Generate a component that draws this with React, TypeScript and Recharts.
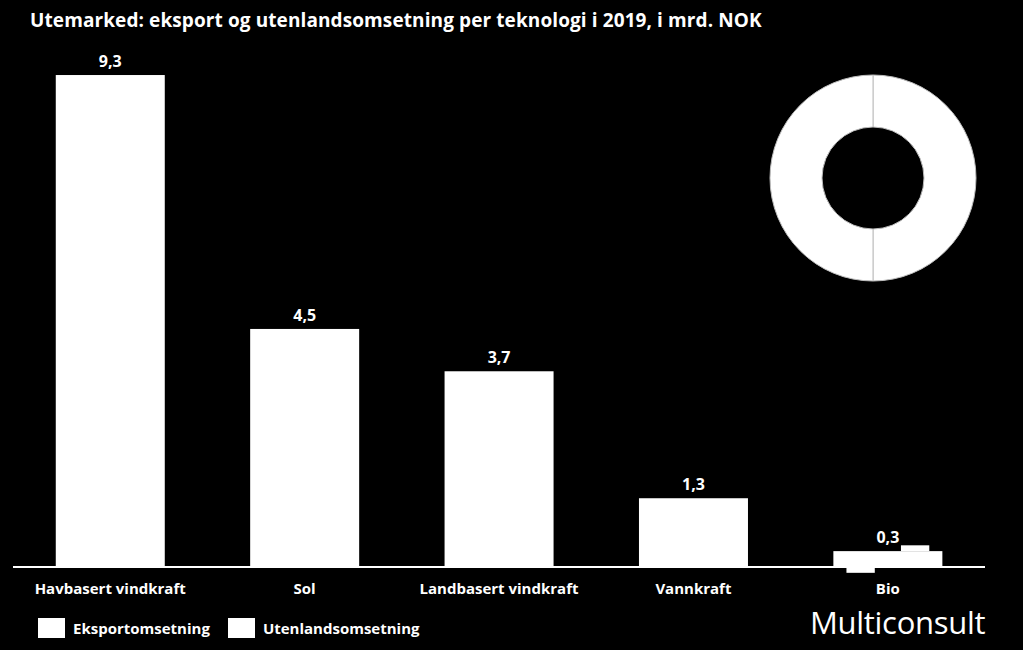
import React from "react";
import { Bar, BarChart, LabelList, Pie, PieChart, XAxis, YAxis, Cell } from "recharts";

const categories = ["Havbasert vindkraft", "Sol", "Landbasert vindkraft", "Vannkraft", "Bio"];
const totals = [9.3, 4.5, 3.7, 1.3, 0.3];
// small offset pieces drawn around the Bio bar in the original
const overlapAbove = [0, 0, 0, 0, 0.11];
const overlapBelow = [0, 0, 0, 0, 0.11];

const seriesNames = ["Eksportomsetning", "Utenlandsomsetning"];
const donutValues = [50, 50];

const FONT = "'Open Sans', Lato, sans-serif";
const WHITE = "#ffffff";

const barData = categories.map((name, i) => ({
  name,
  total: totals[i],
  above: overlapAbove[i],
  below: overlapBelow[i],
}));

const donutData = seriesNames.map((name, i) => ({ name, value: donutValues[i] }));

const fmt = (v: number) => v.toLocaleString("nb-NO", { minimumFractionDigits: 1, maximumFractionDigits: 1 });

// Bar shape: the main rectangle, plus the little shifted pieces seen on the Bio bar.
const renderBar = (props: any) => {
  const { x, y, width, height, payload } = props;
  const perUnit = payload.total ? height / payload.total : 0;
  const pieceW = width * 0.26;
  return (
    <g>
      <rect x={x} y={y} width={width} height={height} fill={WHITE} />
      {payload.above > 0 && (
        <rect
          x={x + width * 0.62}
          y={y - payload.above * perUnit}
          width={pieceW}
          height={payload.above * perUnit}
          fill={WHITE}
        />
      )}
      {payload.below > 0 && (
        <rect x={x + width * 0.12} y={y + height} width={pieceW} height={payload.below * perUnit} fill={WHITE} />
      )}
    </g>
  );
};

export default function App() {
  return (
    <div
      style={{
        position: "fixed",
        left: 0,
        top: 0,
        width: 1023,
        height: 650,
        background: "#000",
        fontFamily: FONT,
        overflow: "hidden",
      }}
    >
      <div
        style={{
          position: "absolute",
          left: 30,
          top: 7,
          color: WHITE,
          fontSize: 19,
          fontWeight: 700,
          letterSpacing: 0.1,
          whiteSpace: "nowrap",
        }}
      >
        Utemarked: eksport og utenlandsomsetning per teknologi i 2019, i mrd. NOK
      </div>

      <div style={{ position: "absolute", left: 0, top: 0 }}>
        <BarChart
          width={1023}
          height={650}
          data={barData}
          margin={{ top: 38, right: 38, bottom: 53, left: 13 }}
          barCategoryGap="22%"
        >
          <XAxis
            dataKey="name"
            height={30}
            axisLine={{ stroke: WHITE, strokeWidth: 2 }}
            tickLine={false}
            tickMargin={10}
            interval={0}
            tick={{ fill: WHITE, fontSize: 15, fontWeight: 700, fontFamily: FONT }}
          />
          <YAxis hide domain={[0, 10]} />
          <Bar dataKey="total" name={seriesNames[0]} fill={WHITE} shape={renderBar} isAnimationActive={false}>
            <LabelList
              dataKey="total"
              position="top"
              offset={8}
              fill={WHITE}
              fontSize={16}
              fontWeight={700}
              fontFamily={FONT}
              formatter={(v: any) => fmt(Number(v))}
            />
          </Bar>
        </BarChart>
      </div>

      <div style={{ position: "absolute", left: 758, top: 63 }}>
        <PieChart width={220} height={220}>
          <Pie
            data={donutData}
            dataKey="value"
            nameKey="name"
            cx={110}
            cy={110}
            innerRadius={51}
            outerRadius={103}
            startAngle={90}
            endAngle={-270}
            stroke="#bdbdbd"
            strokeWidth={1}
            isAnimationActive={false}
          >
            {donutData.map((d) => (
              <Cell key={d.name} fill={WHITE} />
            ))}
          </Pie>
        </PieChart>
      </div>

      <div
        style={{
          position: "absolute",
          left: 38,
          top: 618,
          display: "flex",
          alignItems: "center",
          color: WHITE,
          fontSize: 15,
          fontWeight: 700,
        }}
      >
        {seriesNames.map((s) => (
          <span key={s} style={{ display: "flex", alignItems: "center", marginRight: 18 }}>
            <span style={{ display: "inline-block", width: 27, height: 20, background: WHITE, marginRight: 8 }} />
            {s}
          </span>
        ))}
      </div>

      <div
        style={{
          position: "absolute",
          left: 810,
          top: 601,
          color: WHITE,
          fontSize: 31,
          fontFamily: "'Open Sans', sans-serif",
          fontWeight: 400,
          letterSpacing: -0.3,
        }}
      >
        Multiconsult
      </div>
    </div>
  );
}
